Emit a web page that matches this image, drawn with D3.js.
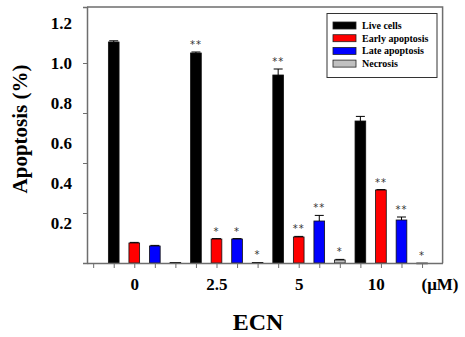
<!DOCTYPE html>
<html>
<head>
<meta charset="utf-8">
<script src="https://cdn.jsdelivr.net/npm/d3@7/dist/d3.min.js"></script>
<style>
  html, body { margin: 0; padding: 0; background: #fff; }
  svg { display: block; }
  text { font-family: "Liberation Serif", "Times New Roman", serif; font-weight: bold; }
</style>
</head>
<body>
<svg id="chart" width="465" height="337"></svg>
<script>
// ECN concentrations (µM) and the four cell-population series
const categories = ["0", "2.5", "5", "10"];
const unitLabel = "(μM)";
const seriesNames = ["Live cells", "Early apoptosis", "Late apoptosis", "Necrosis"];
const seriesColors = ["#000000", "#ff0000", "#0000ff", "#c0c0c0"];

const liveCells      = [1.105, 1.05, 0.94, 0.71];
const earlyApoptosis = [0.10, 0.12, 0.13, 0.365];
const lateApoptosis  = [0.085, 0.12, 0.21, 0.215];
const necrosis       = [0.003, 0.003, 0.015, 0.0];

const liveErr  = [0.006, 0.005, 0.03, 0.023];
const earlyErr = [0.003, 0.002, 0.003, 0.002];
const lateErr  = [0.003, 0.002, 0.028, 0.015];
const necErr   = [0.0, 0.0, 0.003, 0.0];

// significance marks per series and concentration
const liveSig  = ["", "**", "**", ""];
const earlySig = ["", "*", "**", "**"];
const lateSig  = ["", "*", "**", "**"];
const necSig   = ["", "*", "*", "*"];

const yLabelTicks = [0.2, 0.4, 0.6, 0.8, 1.0, 1.2];
const yMarkTicks  = [0.25, 0.5, 0.75, 1.0];

const series = [
  { name: seriesNames[0], color: seriesColors[0], values: liveCells,      errors: liveErr,  sig: liveSig },
  { name: seriesNames[1], color: seriesColors[1], values: earlyApoptosis, errors: earlyErr, sig: earlySig },
  { name: seriesNames[2], color: seriesColors[2], values: lateApoptosis,  errors: lateErr,  sig: lateSig },
  { name: seriesNames[3], color: seriesColors[3], values: necrosis,       errors: necErr,   sig: necSig }
];

const svg = d3.select("#chart");
const axisColor = "#6e6e6e";

// bars sit on evenly spaced slots: slot 0 is empty, then 4 bars per concentration
const slotOf = (g, s) => 1 + 4 * g + s;
const x = d3.scaleLinear().domain([-0.3, 17]).range([87, 442.6]);
const y = d3.scaleLinear().domain([0, 1.28]).range([263, 7]);
const barW = 0.52 * (x(1) - x(0));

const bars = [];
series.forEach((sr, s) => {
  sr.values.forEach((v, g) => {
    bars.push({ s, g, v, e: sr.errors[g], sig: sr.sig[g], color: sr.color });
  });
});

// frame (top and right)
svg.append("path")
  .attr("d", `M${x(-0.3)},${y(1.28)}H${x(17)}V${y(0)}`)
  .attr("fill", "none").attr("stroke", axisColor).attr("stroke-width", 1.5);

// bars
svg.append("g").selectAll("rect").data(bars).join("rect")
  .attr("x", d => x(slotOf(d.g, d.s)) - barW / 2)
  .attr("y", d => y(d.v))
  .attr("width", barW)
  .attr("height", d => Math.max(0.8, y(0) - y(d.v)))
  .attr("fill", d => d.color)
  .attr("stroke", "#111")
  .attr("stroke-width", 0.8);

// error bars
const errG = svg.append("g").attr("stroke", "#000").attr("stroke-width", 1);
bars.filter(d => d.e > 0).forEach(d => {
  const cx = x(slotOf(d.g, d.s));
  errG.append("line").attr("x1", cx).attr("x2", cx).attr("y1", y(d.v)).attr("y2", y(d.v + d.e));
  errG.append("line").attr("x1", cx - 4.5).attr("x2", cx + 4.5).attr("y1", y(d.v + d.e)).attr("y2", y(d.v + d.e));
});

// significance asterisks
svg.append("g")
  .selectAll("text").data(bars.filter(d => d.sig)).join("text")
  .attr("x", d => x(slotOf(d.g, d.s)))
  .attr("y", d => y(d.v + d.e) - 4)
  .attr("text-anchor", "middle")
  .style("fill", "#333")
  .style("font-family", "'DejaVu Sans', sans-serif")
  .style("font-size", "10px")
  .style("font-weight", "normal")
  .style("letter-spacing", "1px")
  .text(d => d.sig);

// x axis: slot ticks
const xAxisG = svg.append("g").attr("transform", `translate(0,${y(0)})`)
  .call(d3.axisBottom(x).tickValues(d3.range(0, 17)).tickSize(5).tickSizeOuter(0).tickFormat(""));
xAxisG.select(".domain").attr("stroke", axisColor).attr("stroke-width", 1.5);
xAxisG.selectAll(".tick line").attr("stroke", axisColor);

// x axis: concentration labels under the early-apoptosis bar of each group
const catPos = categories.map((c, g) => slotOf(g, 1) - (g === 3 ? 0.25 : 0));
const catLabels = categories.concat([unitLabel]);
const xLabG = svg.append("g").attr("transform", `translate(0,${y(0)})`)
  .call(d3.axisBottom(x).tickValues(catPos.concat([16.85])).tickSize(0).tickPadding(15)
    .tickFormat((d, i) => catLabels[i]));
xLabG.select(".domain").remove();
xLabG.selectAll("text").style("font-size", "17px").attr("fill", "#000")
  .style("font-family", "'Liberation Serif', serif");

// y axis: tick marks
const yAxisG = svg.append("g").attr("transform", `translate(${x(-0.3)},0)`)
  .call(d3.axisLeft(y).tickValues(yMarkTicks).tickSize(4).tickSizeOuter(4).tickFormat(""));
yAxisG.select(".domain").attr("stroke", axisColor).attr("stroke-width", 1.5);
yAxisG.selectAll(".tick line").attr("stroke", axisColor);

// y axis: value labels
const yLabG = svg.append("g").attr("transform", `translate(${x(-0.3)},0)`)
  .call(d3.axisLeft(y).tickValues(yLabelTicks).tickSize(0).tickPadding(15).tickFormat(d3.format(".1f")));
yLabG.select(".domain").remove();
yLabG.selectAll("text").style("font-size", "17px").attr("fill", "#000")
  .style("font-family", "'Liberation Serif', serif");

// axis titles
svg.append("text")
  .attr("x", 258).attr("y", 330)
  .attr("text-anchor", "middle")
  .style("font-size", "24px")
  .text("ECN");

svg.append("text")
  .attr("transform", "translate(27,129) rotate(-90)")
  .attr("text-anchor", "middle")
  .style("font-size", "21px")
  .text("Apoptosis (%)");

// legend
const lg = svg.append("g");
lg.append("rect").attr("x", 327).attr("y", 13.5).attr("width", 110).attr("height", 64)
  .attr("fill", "#fff").attr("stroke", "#333").attr("stroke-width", 1);
series.forEach((sr, i) => {
  const cy = 25.5 + i * 12.7;
  lg.append("rect").attr("x", 333).attr("y", cy - 3.5).attr("width", 23).attr("height", 7)
    .attr("fill", sr.color).attr("stroke", "#222").attr("stroke-width", 0.8);
  lg.append("text").attr("x", 362).attr("y", cy).attr("dy", "0.35em")
    .style("font-size", "10px").text(sr.name);
});
</script>
</body>
</html>
